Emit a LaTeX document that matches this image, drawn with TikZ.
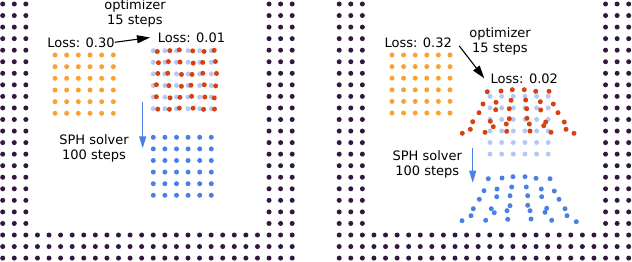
\documentclass[tikz,border=0pt]{standalone}
\usepackage{fontspec}
\setmainfont{DejaVu Sans}
\usetikzlibrary{arrows.meta}
\definecolor{wallc}{HTML}{33173F}
\definecolor{orangec}{HTML}{F9A233}
\definecolor{redc}{HTML}{D9400F}
\definecolor{paleblue}{HTML}{B4C8F5}
\definecolor{bluec}{HTML}{4A80E6}

\begin{document}
\begin{tikzpicture}[x=1pt, y=-1pt,
    wall/.style={fill=wallc},
    initdot/.style={fill=orangec},
    optdot/.style={fill=redc},
    targetdot/.style={fill=paleblue},
    simdot/.style={fill=bluec},
    txt/.style={font=\fontsize{13}{15}\selectfont, inner sep=0pt, align=center},
    optarrow/.style={-{Triangle[length=13pt, width=8pt]}, line width=1.1pt, black},
    simarrow/.style={-{Triangle[length=12pt, width=7pt]}, line width=1.1pt, bluec}]
    \useasboundingbox (0,0) rectangle (632,262);
    \foreach \ox in {2.7,339.2}{
        \foreach \j in {0,...,22}
            \foreach \i in {0,1,2,23,24,25}
                \fill[wall] ({\ox+11.58*\i},{4+11.55*\j}) circle (2.5pt);
        \foreach \j in {20,21,22}
            \foreach \i in {3,...,22}
                \fill[wall] ({\ox+11.58*\i},{4+11.55*\j}) circle (2.5pt);
    }
    \foreach \i in {0,...,5}
        \foreach \j in {0,...,5}{
            \fill[initdot] ({55+11.67*\i},{55+11.67*\j}) circle (2.5pt);
            \fill[initdot] ({392+11.6*\i},{55+11.6*\j}) circle (2.5pt);
            \fill[targetdot] ({153.3+11.6*\i},{50.7+11.6*\j}) circle (2.5pt);
            \fill[optdot] ({157.3+11.6*\i+1.2*sin(130*\i+77*\j)},{50.7+11.6*\j+0.8*cos(95*\i+61*\j)}) circle (2.5pt);
            \fill[simdot] ({153.3+11.6*\i},{137.3+11.6*\j}) circle (2.5pt);
            \fill[targetdot] ({490+11.65*\i},{96.3+11.55*\j}) circle (2.5pt);
        }
    \foreach \p in {(487.3,91.7),(501,91),(512.3,89.7),(524.3,89.7),(535.7,91.3),(549,91.3),
        (483,104),(496,102.3),(511,100.3),(525.7,100),(540.3,101.7),(553.3,104),
        (479,112.7),(495.7,109.7),(509.3,108.7),(526.7,108.7),(540.7,110),(558,112.7),
        (472.7,121.7),(490.3,121.3),(509.3,118.7),(527,118.3),(545.7,122),(564.3,122),
        (470.3,129.3),(493.3,126.7),(506.3,124),(529.3,124),(543.7,125.7),(566,129.3),
        (462.3,133.3),(485,132.3),(506.7,131.3),(530,131),(551,132.3),(574,133.3)}
        \fill[optdot] \p circle (2.5pt);
    \foreach \p in {(488.3,178.7),(502,178),(513,176.7),(525,176.7),(536,178.3),(550,178.7),
        (484,190.7),(497,189),(511.7,187),(526.3,187),(541.3,189),(554.3,191),
        (479.3,199.3),(496.7,196.7),(510,195.7),(527.7,195.7),(541.7,196.7),(559,199.3),
        (473.3,208.7),(491.3,208.7),(510,205.7),(527.7,205.3),(546.7,208.3),(565,208.7),
        (471,215.7),(494.3,212.7),(507,210.7),(530,210.7),(545,212.3),(567,215.7),
        (462,220.7),(485.7,220.3),(507.7,219.3),(531,219),(551.7,220.3),(576.3,221.7)}
        \fill[simdot] \p circle (2.5pt);

    \node[txt] (optleft) at (135,13.7) {optimizer\\15 steps};
    \node[txt] (lossinitleft) at (81,42.3) {Loss: 0.30};
    \node[txt] (lossoptleft) at (191.5,37.3) {Loss: 0.01};
    \node[txt] (sphleft) at (94,148) {SPH solver\\100 steps};
    \coordinate (optlefttip) at (150,37.5);
    \coordinate (simleftfrom) at (142.7,101.7);
    \coordinate (simleftto) at (142.7,148.3);
    \draw[optarrow] (lossinitleft.east) -- (optlefttip);
    \draw[simarrow] (simleftfrom) -- (simleftto);

    \node[txt] (optright) at (500,41.7) {optimizer\\15 steps};
    \node[txt] (lossinitright) at (418.2,42.3) {Loss: 0.32};
    \node[txt] (lossoptright) at (524.3,79) {Loss: 0.02};
    \node[txt] (sphright) at (427.3,164) {SPH solver\\100 steps};
    \coordinate (optrightfrom) at (459.3,46);
    \coordinate (optrighttip) at (484.3,78.3);
    \coordinate (simrightfrom) at (472.7,148.3);
    \coordinate (simrightto) at (472.7,182.7);
    \draw[optarrow] (optrightfrom) -- (optrighttip);
    \draw[simarrow] (simrightfrom) -- (simrightto);
\end{tikzpicture}
\end{document}
